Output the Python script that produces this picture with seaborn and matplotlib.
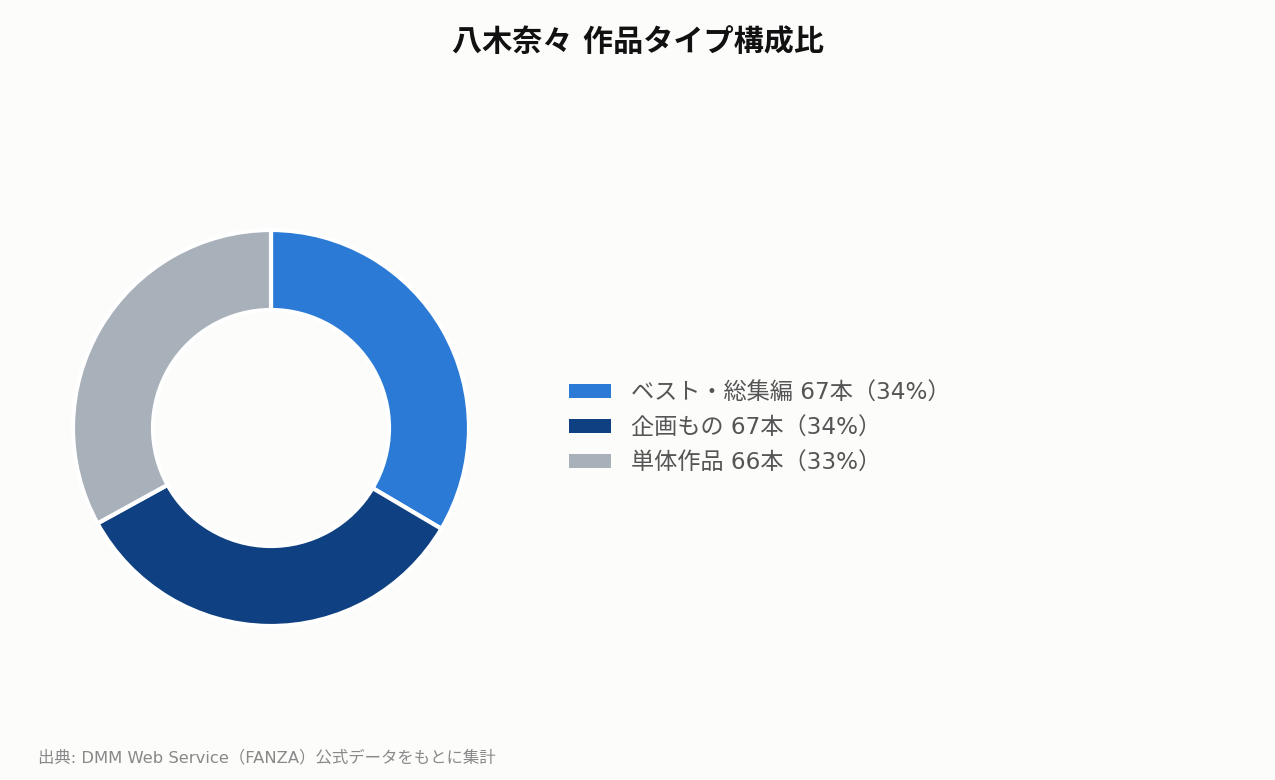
import matplotlib
matplotlib.use("Agg")
import matplotlib.pyplot as plt
import matplotlib.patches as mpatches
import seaborn as sns

# 作品タイプ別の本数
types = ["ベスト・総集編", "企画もの", "単体作品"]
counts = [67, 67, 66]
pcts = [34, 34, 33]
colors = ["#2a7ad6", "#0f4081", "#a8b0ba"]

sns.set_theme(style="white")
plt.rcParams['font.family'] = ['DejaVu Sans', 'Noto Sans CJK JP']

bg = "#fcfcfb"
fig = plt.figure(figsize=(12.75, 7.8), dpi=100, facecolor=bg)

# ドーナツ部分
ax = fig.add_axes([(271 - 200) / 1275, (780 - 428 - 200) / 780, 400 / 1275, 400 / 780])
ax.set_facecolor(bg)
wedges, _ = ax.pie(counts, colors=colors, startangle=90, counterclock=False,
                   radius=0.99, wedgeprops=dict(width=0.40, edgecolor="white", linewidth=3))
ax.set_xlim(-1, 1)
ax.set_ylim(-1, 1)
ax.set_aspect("equal")
ax.axis("off")

labels = [f"{t} {c}本（{p}%）" for t, c, p in zip(types, counts, pcts)]
handles = [mpatches.Patch(facecolor=c, edgecolor="none") for c in colors]
leg = fig.legend(handles, labels, loc="center left", bbox_to_anchor=(0.43, 1 - 428 / 780),
                 frameon=False, fontsize=16.7, handlelength=1.81, handleheight=0.56,
                 handletextpad=0.86, labelspacing=0.52)
for t in leg.get_texts():
    t.set_color("#555555")

fig.text(0.5, 1 - 43 / 780, "八木奈々 作品タイプ構成比", ha="center", va="center",
         fontsize=21.7, fontweight="bold", color="#111111")
fig.text(38 / 1275, 1 - 758 / 780, "出典: DMM Web Service（FANZA）公式データをもとに集計",
         ha="left", va="center", fontsize=11.8, color="#888888")

fig.savefig("out.png", dpi=100, facecolor=bg)
